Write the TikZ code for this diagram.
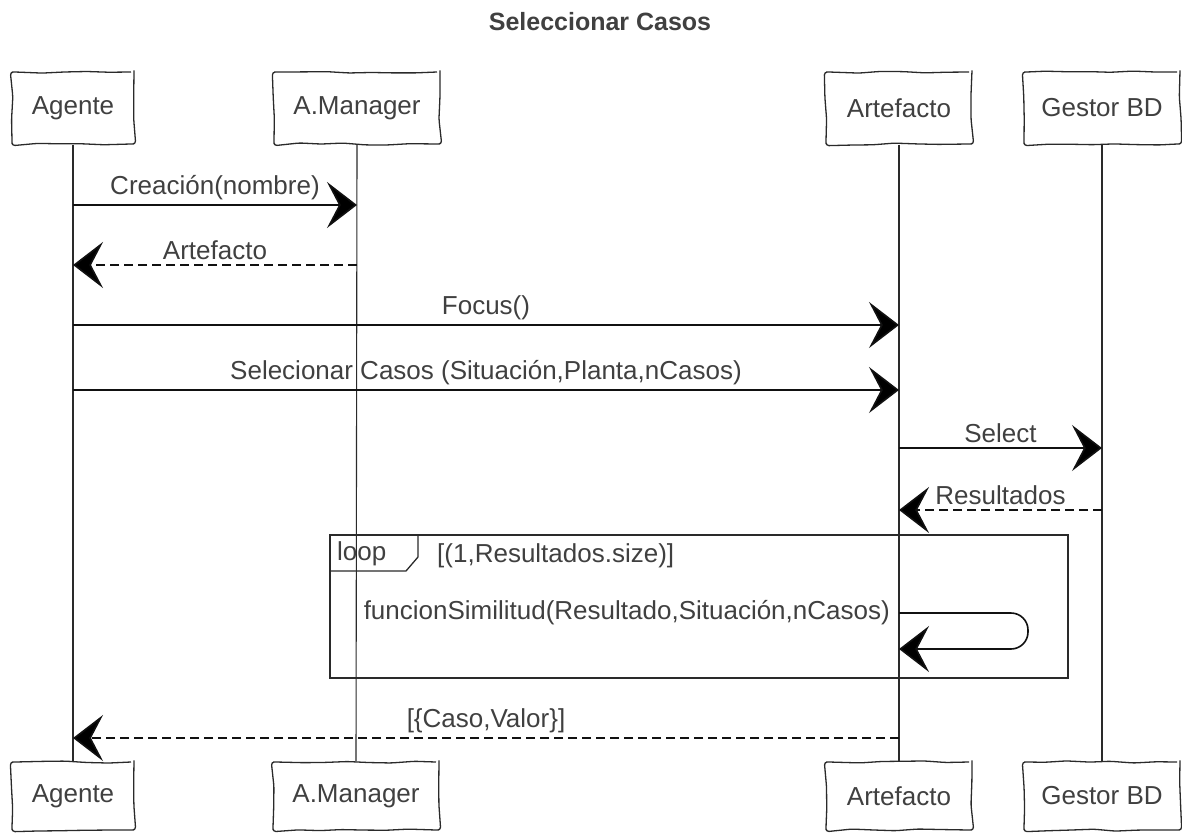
\documentclass[tikz,border=0pt]{standalone}
\usepackage{fontspec}
\setmainfont{Liberation Sans}
\usetikzlibrary{arrows.meta,decorations.pathmorphing}
\definecolor{ink}{HTML}{111111}
\definecolor{edge}{HTML}{2A2A2A}
\definecolor{txt}{HTML}{404040}
\begin{document}
\pgfmathsetseed{7}
\begin{tikzpicture}[x=1pt,y=-1pt,
  lbl/.style={font=\fontsize{26}{29}\selectfont, text=txt, inner sep=1pt},
  sketch/.style={decorate, decoration={random steps, segment length=22pt, amplitude=1.1pt}, rounded corners=3pt},
  actor/.style={draw=edge, line width=1.3pt, lbl, minimum height=72pt, inner sep=0pt, sketch},
  life/.style={draw=edge, line width=1.1pt},
  msg/.style={draw=ink, line width=1.6pt, -{Stealth[length=30pt,width=46pt,inset=12pt,fill=black]}},
  ret/.style={msg, dash pattern=on 9pt off 5pt},
  frame/.style={draw=edge, line width=1.3pt}]
\useasboundingbox (0,0) rectangle (1182,832);

% title
\node[lbl, font=\fontsize{25}{28}\selectfont\bfseries] (title) at (600,22) {Seleccionar Casos};

% participants, top row
\node[actor, minimum width=122pt] (agT) at (73,108) {Agente};
\node[actor, minimum width=166pt] (amT) at (357,108) {A.Manager};
\node[actor, minimum width=146pt] (arT) at (899,108) {Artefacto};
\node[actor, minimum width=156pt] (gbT) at (1102,108) {Gestor BD};

% participants, bottom row
\node[actor, minimum width=122pt, minimum height=68pt] (agB) at (73,796) {Agente};
\node[actor, minimum width=166pt, minimum height=68pt] (amB) at (356,796) {A.Manager};
\node[actor, minimum width=146pt, minimum height=68pt] (arB) at (899,796) {Artefacto};
\node[actor, minimum width=156pt, minimum height=68pt] (gbB) at (1102,796) {Gestor BD};

% lifelines
\draw[life] (agT.south) -- (agB.north);
\draw[life] (amT.south) -- (amB.north);
\draw[life] (arT.south) -- (arB.north);
\draw[life] (gbT.south) -- (gbB.north);

% loop frame
\coordinate (frNW) at (330,535);
\coordinate (frSE) at (1068,678);
\draw[frame] (frNW) rectangle (frSE);
\node[lbl, anchor=west] (looptag) at (336,554) {loop};
\draw[frame] (frNW) -- (418,535) -- (418,557) -- (406,571) -- (330,571);
\node[lbl, anchor=west] (guard) at (436,556) {[(1,Resultados.size)]};

% message anchor points on the lifelines
\coordinate (m1a) at (agT |- 0,205);  \coordinate (m1b) at (amT |- 0,205);
\coordinate (m2a) at (amT |- 0,265);  \coordinate (m2b) at (agT |- 0,265);
\coordinate (m3a) at (agT |- 0,325);  \coordinate (m3b) at (arT |- 0,325);
\coordinate (m4a) at (agT |- 0,390);  \coordinate (m4b) at (arT |- 0,390);
\coordinate (m5a) at (arT |- 0,448);  \coordinate (m5b) at (gbT |- 0,448);
\coordinate (m6a) at (gbT |- 0,510);  \coordinate (m6b) at (arT |- 0,510);
\coordinate (m7a) at (arT |- 0,613);  \coordinate (m7b) at (arT |- 0,649);
\coordinate (m7r) at (1028,613);      \coordinate (m7s) at (1028,649);
\coordinate (m8a) at (arT |- 0,738);  \coordinate (m8b) at (agT |- 0,738);

% messages
\draw[msg] (m1a) -- node[lbl, above=3pt] {Creación(nombre)} (m1b);
\draw[ret] (m2a) -- node[lbl, above=3pt] {Artefacto} (m2b);
\draw[msg] (m3a) -- node[lbl, above=3pt] {Focus()} (m3b);
\draw[msg] (m4a) -- node[lbl, above=3pt] {Selecionar Casos (Situación,Planta,nCasos)} (m4b);
\draw[msg] (m5a) -- node[lbl, above=3pt] {Select} (m5b);
\draw[ret] (m6a) -- node[lbl, above=3pt] {Resultados} (m6b);
\draw[msg, rounded corners=17pt] (m7a) -- (m7r) -- (m7s) -- (m7b);
\node[lbl, anchor=east] (selflbl) at ([xshift=-8pt]m7a) {funcionSimilitud(Resultado,Situación,nCasos)};
\draw[ret] (m8a) -- node[lbl, above=3pt] {[\{Caso,Valor\}]} (m8b);
\end{tikzpicture}
\end{document}
